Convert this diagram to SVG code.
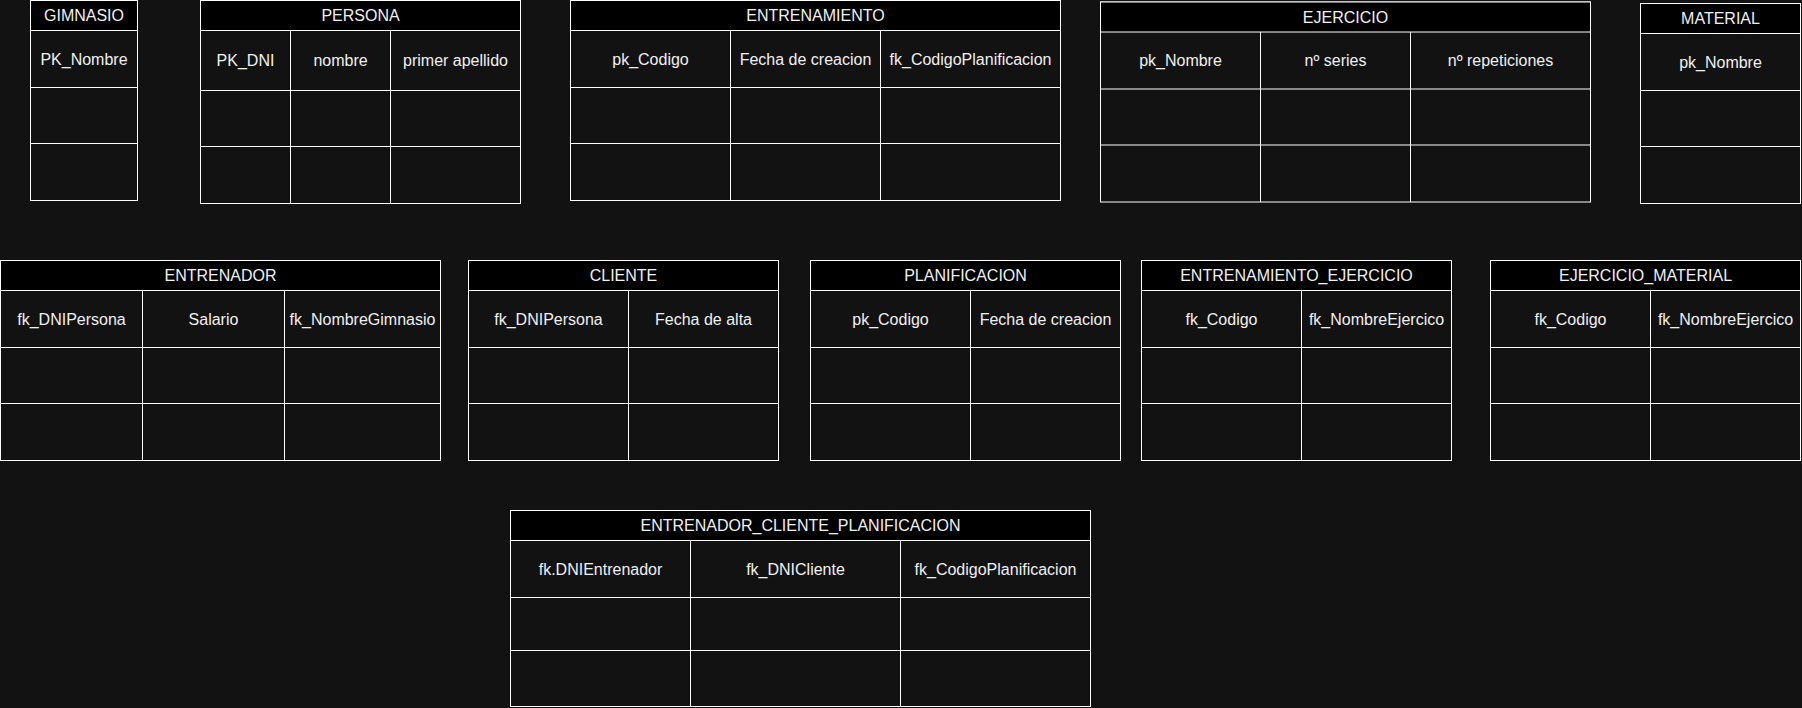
<svg xmlns="http://www.w3.org/2000/svg" width="1802" height="708" viewBox="0 0 1802 708">
<style>
.bg{fill:#121212}
.hd{fill:#000000;stroke:#ffffff;stroke-width:1}
.tb{fill:#121212;stroke:#ffffff;stroke-width:1}
.ln{stroke:#ffffff;stroke-width:1;fill:none}
text{font-family:"Liberation Sans",Arial,Helvetica,sans-serif;font-size:16px;fill:#f0f0f0;text-anchor:middle}
</style>
<rect class="bg" x="0" y="0" width="1802" height="708"/>
<g id="connectors"></g>

<g id="gimnasio">
<rect class="tb" x="30.5" y="0.5" width="107" height="200"/>
<rect class="hd" x="30.5" y="0.5" width="107" height="30"/>
<path class="ln" d="M30.5 87.5H137.5M30.5 143.5H137.5"/>
<text x="84" y="21">GIMNASIO</text>
<text x="84" y="64.5">PK_Nombre</text>
</g>

<g id="persona">
<rect class="tb" x="200.5" y="0.5" width="320" height="203"/>
<rect class="hd" x="200.5" y="0.5" width="320" height="30"/>
<path class="ln" d="M200.5 90.5H520.5M200.5 146.5H520.5M290.5 30.5V203.5M390.5 30.5V203.5"/>
<text x="360.5" y="21">PERSONA</text>
<text x="245.5" y="66">PK_DNI</text>
<text x="340.5" y="66">nombre</text>
<text x="455.5" y="66">primer apellido</text>
</g>

<g id="entrenamiento">
<rect class="tb" x="570.5" y="0.5" width="490" height="200"/>
<rect class="hd" x="570.5" y="0.5" width="490" height="30"/>
<path class="ln" d="M570.5 87.5H1060.5M570.5 143.5H1060.5M730.5 30.5V200.5M880.5 30.5V200.5"/>
<text x="815.5" y="21">ENTRENAMIENTO</text>
<text x="650.5" y="64.5">pk_Codigo</text>
<text x="805.5" y="64.5">Fecha de creacion</text>
<text x="970.5" y="64.5">fk_CodigoPlanificacion</text>
</g>

<g id="ejercicio">
<rect class="tb" x="1100.5" y="2" width="490" height="200"/>
<rect class="hd" x="1100.5" y="2" width="490" height="30"/>
<path class="ln" d="M1100.5 89H1590.5M1100.5 145H1590.5M1260.5 32V202M1410.5 32V202"/>
<text x="1345.5" y="23">EJERCICIO</text>
<text x="1180.5" y="66">pk_Nombre</text>
<text x="1335.5" y="66">nº series</text>
<text x="1500.5" y="66">nº repeticiones</text>
</g>

<g id="material">
<rect class="tb" x="1640.5" y="3.5" width="160" height="200"/>
<rect class="hd" x="1640.5" y="3.5" width="160" height="30"/>
<path class="ln" d="M1640.5 90.5H1800.5M1640.5 146.5H1800.5"/>
<text x="1720.5" y="24">MATERIAL</text>
<text x="1720.5" y="67.5">pk_Nombre</text>
</g>

<g id="entrenador">
<rect class="tb" x="0.5" y="260.5" width="440" height="200"/>
<rect class="hd" x="0.5" y="260.5" width="440" height="30"/>
<path class="ln" d="M0.5 347.5H440.5M0.5 403.5H440.5M142.5 290.5V460.5M284.5 290.5V460.5"/>
<text x="220.5" y="281">ENTRENADOR</text>
<text x="71.5" y="324.5">fk_DNIPersona</text>
<text x="213.5" y="324.5">Salario</text>
<text x="362.5" y="324.5">fk_NombreGimnasio</text>
</g>

<g id="cliente">
<rect class="tb" x="468.5" y="260.5" width="310" height="200"/>
<rect class="hd" x="468.5" y="260.5" width="310" height="30"/>
<path class="ln" d="M468.5 347.5H778.5M468.5 403.5H778.5M628.5 290.5V460.5"/>
<text x="623.5" y="281">CLIENTE</text>
<text x="548.5" y="324.5">fk_DNIPersona</text>
<text x="703.5" y="324.5">Fecha de alta</text>
</g>

<g id="planificacion">
<rect class="tb" x="810.5" y="260.5" width="310" height="200"/>
<rect class="hd" x="810.5" y="260.5" width="310" height="30"/>
<path class="ln" d="M810.5 347.5H1120.5M810.5 403.5H1120.5M970.5 290.5V460.5"/>
<text x="965.5" y="281">PLANIFICACION</text>
<text x="890.5" y="324.5">pk_Codigo</text>
<text x="1045.5" y="324.5">Fecha de creacion</text>
</g>

<g id="entrenamiento_ejercicio">
<rect class="tb" x="1141.5" y="260.5" width="310" height="200"/>
<rect class="hd" x="1141.5" y="260.5" width="310" height="30"/>
<path class="ln" d="M1141.5 347.5H1451.5M1141.5 403.5H1451.5M1301.5 290.5V460.5"/>
<text x="1296.5" y="281">ENTRENAMIENTO_EJERCICIO</text>
<text x="1221.5" y="324.5">fk_Codigo</text>
<text x="1376.5" y="324.5">fk_NombreEjercico</text>
</g>

<g id="ejercicio_material">
<rect class="tb" x="1490.5" y="260.5" width="310" height="200"/>
<rect class="hd" x="1490.5" y="260.5" width="310" height="30"/>
<path class="ln" d="M1490.5 347.5H1800.5M1490.5 403.5H1800.5M1650.5 290.5V460.5"/>
<text x="1645.5" y="281">EJERCICIO_MATERIAL</text>
<text x="1570.5" y="324.5">fk_Codigo</text>
<text x="1725.5" y="324.5">fk_NombreEjercico</text>
</g>

<g id="entrenador_cliente_planificacion">
<rect class="tb" x="510.5" y="510.5" width="580" height="196"/>
<rect class="hd" x="510.5" y="510.5" width="580" height="30"/>
<path class="ln" d="M510.5 597.5H1090.5M510.5 650.5H1090.5M690.5 540.5V706.5M900.5 540.5V706.5"/>
<text x="800.5" y="531">ENTRENADOR_CLIENTE_PLANIFICACION</text>
<text x="600.5" y="574.5">fk.DNIEntrenador</text>
<text x="795.5" y="574.5">fk_DNICliente</text>
<text x="995.5" y="574.5">fk_CodigoPlanificacion</text>
</g>
</svg>
